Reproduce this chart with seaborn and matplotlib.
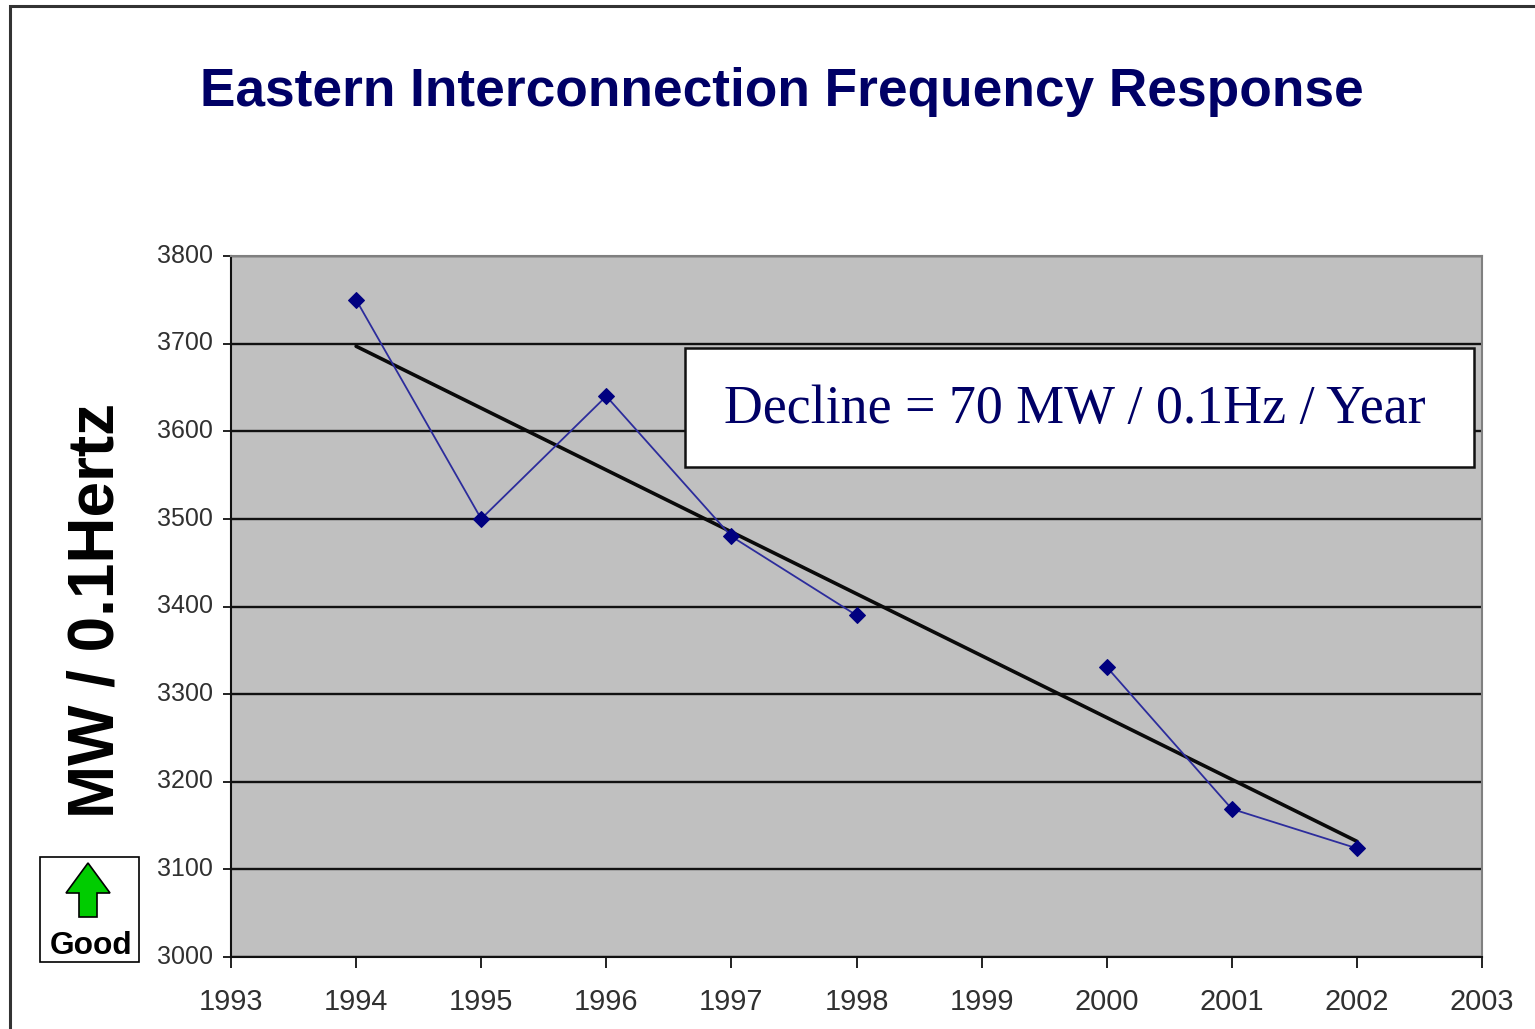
import pandas as pd
import matplotlib
matplotlib.use('Agg')
import matplotlib.pyplot as plt
from matplotlib.patches import Polygon, Rectangle
from matplotlib.transforms import ScaledTranslation
import seaborn as sns

years = [1994, 1995, 1996, 1997, 1998, 1999, 2000, 2001, 2002]
response = [3750, 3500, 3640, 3480, 3390, None, 3331, 3169, 3124]
trend_years = [1994, 2002]
trend_values = [3697, 3132]
x_ticks = list(range(1993, 2004))
y_ticks = list(range(3000, 3900, 100))

W, H = 1535, 1029
NAVY = '#000066'

sns.set_theme(style="white")
plt.rcParams['font.family'] = ['Liberation Sans', 'DejaVu Sans']

df = pd.DataFrame({'year': years, 'mw': response})
df['segment'] = df['mw'].isna().cumsum()
df = df.dropna()
trend = pd.DataFrame({'year': trend_years, 'mw': trend_values})

fig = plt.figure(figsize=(W / 100, H / 100), dpi=100, facecolor='white')
ax = fig.add_axes([231 / W, 1 - 957 / H, (1482 - 231) / W, (957 - 256) / H])
ax.set_facecolor('#c0c0c0')

for _, seg in df.groupby('segment'):
    sns.lineplot(data=seg, x='year', y='mw', ax=ax, color='#2c2c9c', linewidth=1.3,
                 marker='D', markersize=8.4, markerfacecolor='#000080',
                 markeredgecolor='#000080', zorder=4, sort=False, errorbar=None)
sns.lineplot(data=trend, x='year', y='mw', ax=ax, color='#0a0a0a', linewidth=2.6,
             zorder=3, errorbar=None)

ax.set_xlim(1993, 2003)
ax.set_ylim(3000, 3800)
ax.set_xticks(x_ticks)
ax.set_yticks(y_ticks)
ax.set_xlabel('')
ax.set_ylabel('')
ax.grid(axis='y', color='#111111', linewidth=1.7)
ax.set_axisbelow(True)
ax.tick_params(axis='x', length=8, width=1.3, color='#111111', labelsize=20.8,
               labelcolor='#303030', pad=14.5, bottom=True)
ax.tick_params(axis='y', length=6, width=1.3, color='#111111', labelsize=18,
               labelcolor='#303030', pad=7, left=True)
# y labels sit slightly above their ticks in the original
for lab in ax.get_yticklabels():
    lab.set_transform(lab.get_transform() + ScaledTranslation(0, 2 / 72, fig.dpi_scale_trans))
for side, col in [('left', '#111111'), ('bottom', '#111111'), ('top', '#808080'), ('right', '#808080')]:
    ax.spines[side].set_color(col)
    ax.spines[side].set_linewidth(1.5)

# overlay in pixel coords for the slide furniture
ov = fig.add_axes([0, 0, 1, 1], facecolor='none', zorder=10)
ov.set_xlim(0, W)
ov.set_ylim(H, 0)
ov.axis('off')

ov.plot([10, 10, W], [H, 6, 6], color='#333333', linewidth=2.2, solid_joinstyle='miter')
ov.text(782, 92, 'Eastern Interconnection Frequency Response', color=NAVY, fontsize=38.3,
        fontweight='bold', ha='center', va='center')
ov.text(97, 610, 'MW / 0.1Hertz', color='black', fontsize=46, fontweight='bold',
        rotation=90, ha='center', va='center')

ov.add_patch(Rectangle((685, 348), 789, 119, facecolor='white', edgecolor='#111111', linewidth=1.8))
ov.text(1075, 410, 'Decline = 70 MW / 0.1Hz / Year', color=NAVY, fontsize=38.8,
        family=['Liberation Serif', 'DejaVu Serif'], ha='center', va='center')

ov.add_patch(Rectangle((40, 857), 99, 105, facecolor='white', edgecolor='black', linewidth=1.2))
ov.add_patch(Polygon([(88, 863), (110, 893), (97, 893), (97, 917), (79, 917), (79, 893), (66, 893)],
                     closed=True, facecolor='#00cc00', edgecolor='black', linewidth=1.2))
ov.text(91, 946, 'Good', color='black', fontsize=22.8, fontweight='bold', ha='center', va='center')

plt.savefig('out.png', dpi=100)
